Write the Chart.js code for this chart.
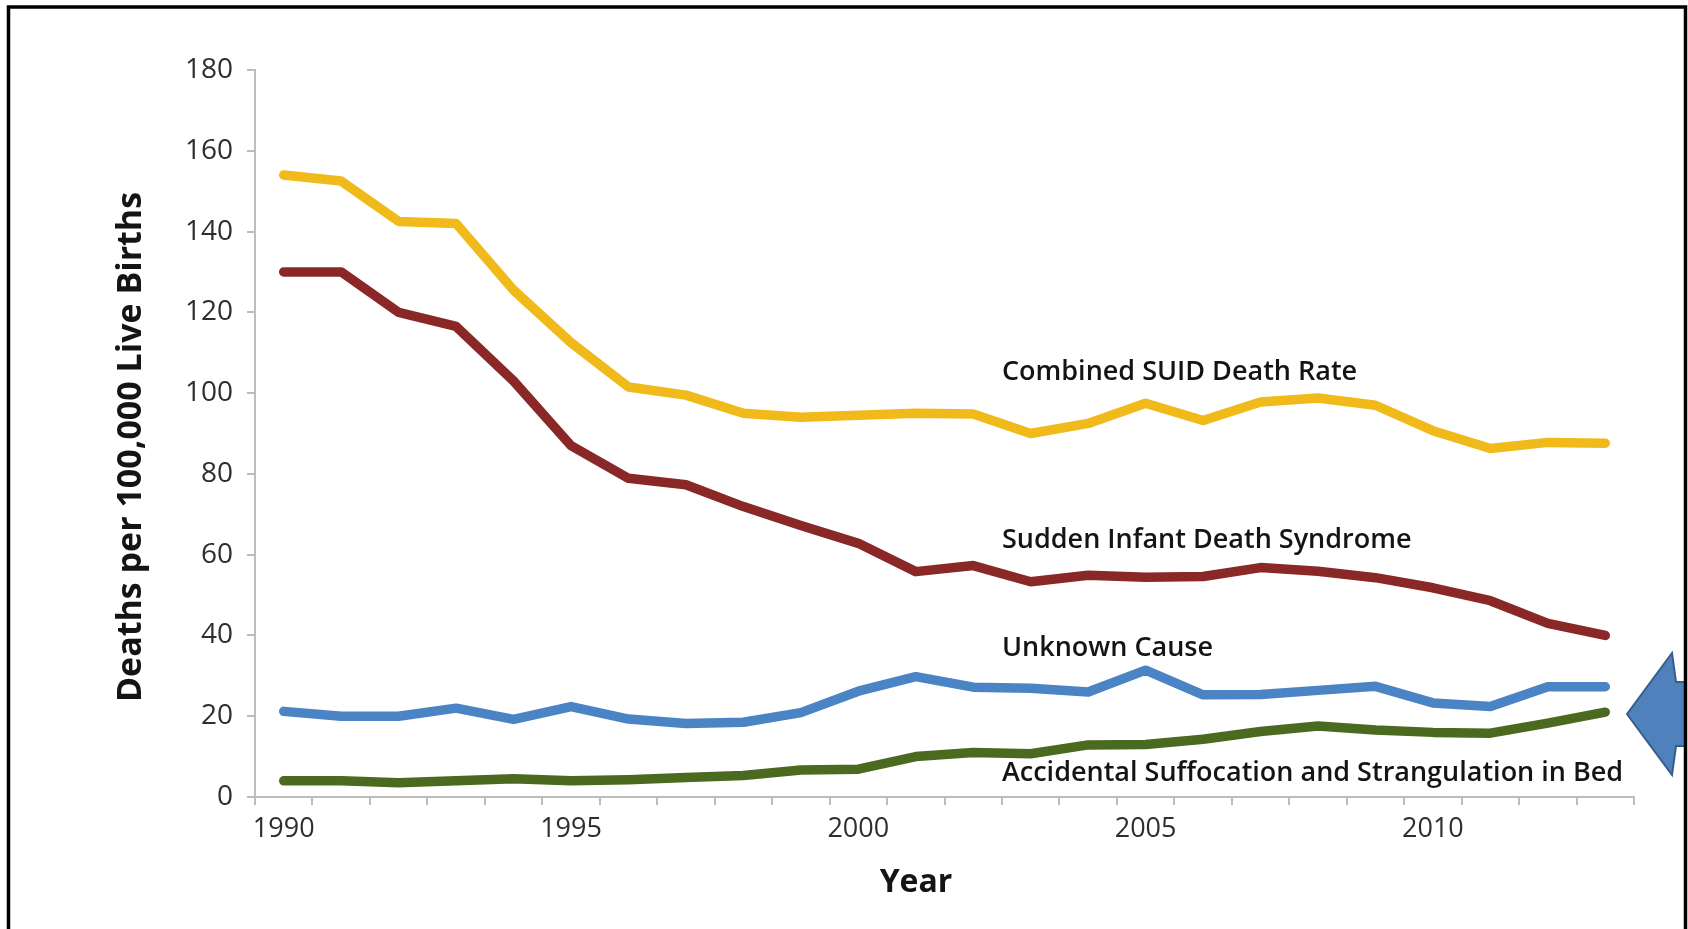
<!DOCTYPE html>
<html>
<head>
<meta charset="utf-8">
<title>SUID death rates by cause, 1990–2013</title>
<script src="https://cdn.jsdelivr.net/npm/chart.js@4.4.1/dist/chart.umd.min.js"></script>
<style>
  html, body { margin: 0; padding: 0; background: #ffffff; }
  #wrap { position: relative; width: 1688px; height: 929px; }
  canvas { display: block; }
</style>
</head>
<body>
<div id="wrap"><canvas id="chart" width="1688" height="929"></canvas></div>
<script>
// Years on the category axis
const years = ['1990','1991','1992','1993','1994','1995','1996','1997','1998','1999','2000','2001',
               '2002','2003','2004','2005','2006','2007','2008','2009','2010','2011','2012','2013'];

// Deaths per 100,000 live births
const combinedSuid = [154, 152.5, 142.5, 142, 125.5, 112.5, 101.5, 99.5, 95, 94, 94.5, 95,
                      94.8, 90, 92.5, 97.5, 93.2, 97.8, 98.8, 97, 90.7, 86.3, 87.8, 87.6];
const sids         = [130, 130, 120, 116.5, 103, 87, 78.9, 77.3, 71.9, 67.2, 62.8, 55.8,
                      57.3, 53.3, 54.9, 54.4, 54.6, 56.8, 55.9, 54.3, 51.8, 48.6, 43, 40];
const unknownCause = [21.2, 20, 20, 22, 19.2, 22.4, 19.3, 18.2, 18.5, 20.9, 26.2, 29.8,
                      27.2, 26.9, 26, 31.4, 25.3, 25.4, 26.4, 27.4, 23.3, 22.4, 27.3, 27.3];
const assb         = [4, 4, 3.5, 4, 4.5, 4, 4.3, 4.8, 5.3, 6.7, 6.9, 10,
                      11, 10.7, 12.9, 13, 14.3, 16.2, 17.6, 16.6, 16, 15.8, 18.3, 21];

// Series names, written beside the lines
const seriesNames = ['Combined SUID Death Rate', 'Sudden Infant Death Syndrome',
                     'Unknown Cause', 'Accidental Suffocation and Strangulation in Bed'];

// Value-axis ticks
const yTicks = [0, 20, 40, 60, 80, 100, 120, 140, 160, 180];

const FONT = "'Open Sans', 'Noto Sans', 'DejaVu Sans', sans-serif";
const AXIS_GREY = '#bdbdbd';

// Frame, pointer arrow, axis titles and in-chart series labels
const decorations = {
  id: 'decorations',
  afterDraw(chart) {
    const ctx = chart.ctx;
    const xs = chart.scales.x, ys = chart.scales.y;
    ctx.save();

    // series labels: left edge at the 2002/2003 boundary
    const lx = (xs.getPixelForValue(12) + xs.getPixelForValue(13)) / 2;
    const labelLevels = [105.1, 63.5, 36.9, 5.9];
    ctx.fillStyle = '#141414';
    ctx.font = '600 27px ' + FONT;
    ctx.textAlign = 'left';
    ctx.textBaseline = 'middle';
    seriesNames.forEach((name, i) => {
      ctx.fillText(name, lx, ys.getPixelForValue(labelLevels[i]));
    });

    // axis titles
    ctx.fillStyle = '#141414';
    ctx.textAlign = 'center';
    ctx.textBaseline = 'middle';
    ctx.font = 'bold 32px ' + FONT;
    ctx.fillText('Year', 916, 883);
    ctx.save();
    ctx.translate(131, 447);
    ctx.rotate(-Math.PI / 2);
    ctx.font = 'bold 34px ' + FONT;
    ctx.fillText('Deaths per 100,000 Live Births', 0, 0);
    ctx.restore();

    // block arrow pointing at the right end of the lines, clipped by the frame
    ctx.save();
    ctx.beginPath();
    ctx.rect(0, 0, 1684, 929);
    ctx.clip();
    ctx.beginPath();
    ctx.moveTo(1627, 714);
    ctx.lineTo(1672, 653);
    ctx.lineTo(1676, 682);
    ctx.lineTo(1760, 682);
    ctx.lineTo(1760, 746);
    ctx.lineTo(1676, 746);
    ctx.lineTo(1672, 775);
    ctx.closePath();
    ctx.fillStyle = '#4f81bd';
    ctx.fill();
    ctx.lineWidth = 2;
    ctx.strokeStyle = '#385d8a';
    ctx.stroke();
    ctx.restore();

    // black frame on the left, top and right
    ctx.strokeStyle = '#000000';
    ctx.lineWidth = 3.5;
    ctx.lineCap = 'butt';
    ctx.beginPath();
    ctx.moveTo(8.5, 929);
    ctx.lineTo(8.5, 7);
    ctx.lineTo(1685.5, 7);
    ctx.lineTo(1685.5, 929);
    ctx.stroke();

    ctx.restore();
  }
};

const lineStyle = (color) => ({
  borderColor: color,
  backgroundColor: color,
  borderWidth: 9.5,
  pointRadius: 0,
  pointHoverRadius: 0,
  tension: 0,
  borderJoinStyle: 'round',
  borderCapStyle: 'round',
  fill: false
});

new Chart(document.getElementById('chart'), {
  type: 'line',
  data: {
    labels: years,
    datasets: [
      { label: seriesNames[0], data: combinedSuid, ...lineStyle('#f0ba1a') },
      { label: seriesNames[1], data: sids,         ...lineStyle('#8a2828') },
      { label: seriesNames[2], data: unknownCause, ...lineStyle('#4a84c4') },
      { label: seriesNames[3], data: assb,         ...lineStyle('#4a6a20') }
    ]
  },
  options: {
    responsive: false,
    animation: false,
    devicePixelRatio: 1,
    layout: { padding: { top: 70, right: 54, bottom: 72, left: 0 } },
    plugins: {
      legend: { display: false },
      tooltip: { enabled: false },
      title: { display: false }
    },
    scales: {
      x: {
        type: 'category',
        offset: true,
        afterFit(scale) { scale.height = 60; },
        grid: {
          display: true,
          offset: true,
          drawOnChartArea: false,
          drawTicks: true,
          tickLength: 8,
          color: AXIS_GREY,
          lineWidth: 2
        },
        border: { display: true, color: AXIS_GREY, width: 2 },
        ticks: {
          autoSkip: false,
          maxRotation: 0,
          minRotation: 0,
          padding: 8,
          color: '#2e2e2e',
          font: { family: FONT, size: 27 },
          callback(value) {
            const yr = years[value];
            return Number(yr) % 5 === 0 ? yr : '';
          }
        }
      },
      y: {
        min: yTicks[0],
        max: yTicks[yTicks.length - 1],
        afterFit(scale) { scale.width = 255; },
        afterBuildTicks(scale) { scale.ticks = yTicks.map(v => ({ value: v })); },
        grid: {
          display: true,
          drawOnChartArea: false,
          drawTicks: true,
          tickLength: 8,
          color: AXIS_GREY,
          lineWidth: 2
        },
        border: { display: true, color: AXIS_GREY, width: 2 },
        ticks: {
          padding: 14,
          color: '#2e2e2e',
          font: { family: FONT, size: 28 }
        }
      }
    }
  },
  plugins: [decorations]
});
</script>
</body>
</html>
